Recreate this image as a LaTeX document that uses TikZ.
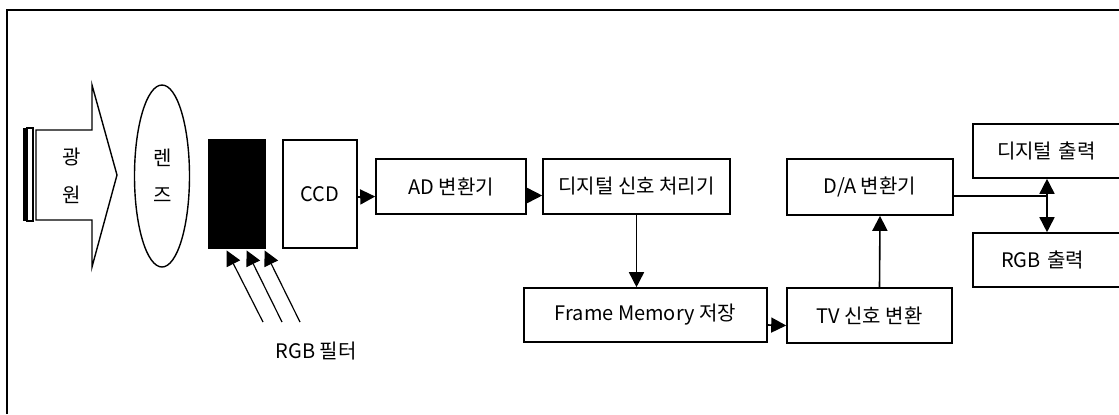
\documentclass[tikz,border=0pt]{standalone}
\usepackage{fontspec}
\setmainfont{Noto Sans CJK KR}
\usetikzlibrary{arrows.meta,calc}
\tikzset{
  box/.style={draw, line width=0.8pt, fill=white, inner sep=0pt, font=\fontsize{10}{12}\selectfont},
  arr/.style={line width=0.8pt, -{Triangle[length=7.5pt,width=7.5pt]}},
  plain/.style={line width=0.8pt},
  lbl/.style={font=\fontsize{10}{12}\selectfont, inner sep=0pt}
}
\begin{document}
\begin{tikzpicture}[x=0.5pt,y=-0.5pt]
\useasboundingbox (0,0) rectangle (1119,414);
\clip (0,0) rectangle (1119,414);
% frame
\draw[plain] (7,414) -- (7,10) -- (1125,10);
% light source arrow
\fill (23,128) rectangle (27,221);
\draw[line width=0.7pt] (27,128) rectangle (33,221);
\draw[line width=0.7pt] (36,130) -- (92,130) -- (92,85) -- (117,175) -- (92,267) -- (92,220) -- (36,220) -- cycle;
\node[lbl] (g1) at (72,157) {광};
\node[lbl] (g2) at (72,195) {원};
% lens
\draw[line width=0.7pt] (162,176) ellipse [x radius=27.5, y radius=91];
\node[lbl] (l1) at (163,158) {렌};
\node[lbl] (l2) at (163,195) {즈};
% filter
\node[fill=black, draw, minimum width=28.5pt, minimum height=54.5pt, inner sep=0pt] (filt) at (236.5,193.5) {};
\coordinate (f1) at (263,322);
\coordinate (f2) at (282,322);
\coordinate (f3) at (300,322);
\draw[arr, line width=0.6pt] (f1) -- ($(filt.south west)+(19,2)$);
\draw[arr, line width=0.6pt] (f2) -- ($(filt.south west)+(39,2)$);
\draw[arr, line width=0.6pt] (f3) -- ($(filt.south west)+(57,2)$);
\node[lbl] (rgbf) at (316,351) {RGB 필터};
% blocks
\node[box, minimum width=37pt, minimum height=54pt] (ccd) at (320,194) {CCD};
\node[box, minimum width=75pt, minimum height=27.5pt] (ad) at (451,186.5) {AD 변환기};
\node[box, minimum width=93.5pt, minimum height=27.5pt] (dsp) at (636.5,186.5) {디지털 신호 처리기};
\node[box, minimum width=121.5pt, minimum height=27pt] (fm) at (645.5,315) {Frame Memory 저장};
\node[box, minimum width=82.5pt, minimum height=27.5pt] (tv) at (869.5,315.5) {TV 신호 변환};
\node[box, minimum width=83pt, minimum height=28pt] (da) at (870,187) {D/A 변환기};
\node[box, text width=55pt, align=left, inner xsep=12pt, minimum height=27pt] (dig) at (1052,151) {디지털 출력};
\node[box, text width=51pt, align=left, inner xsep=14pt, minimum height=27pt] (rgb) at (1052,260) {RGB 출력};
% connectors
\draw[arr] ($(ccd.east)+(0,3)$) -- ($(ad.west)+(0,10)$);
\draw[arr] ($(ad.east)+(0,9)$) -- ($(dsp.west)+(0,9)$);
\draw[arr] (dsp.south) -- (dsp.south |- fm.north);
\draw[arr] ($(fm.east)+(0,10)$) -- ($(tv.west)+(0,10)$);
\draw[arr] ($(tv.north)+(10,0)$) -- ($(da.south)+(10,0)$);
\coordinate (j) at (1047,196);
\draw[plain] ($(da.east)+(0,9)$) -- (j);
\draw[arr] (j) -- (j |- dig.south);
\draw[arr] (j) -- (j |- rgb.north);
\end{tikzpicture}
\end{document}
